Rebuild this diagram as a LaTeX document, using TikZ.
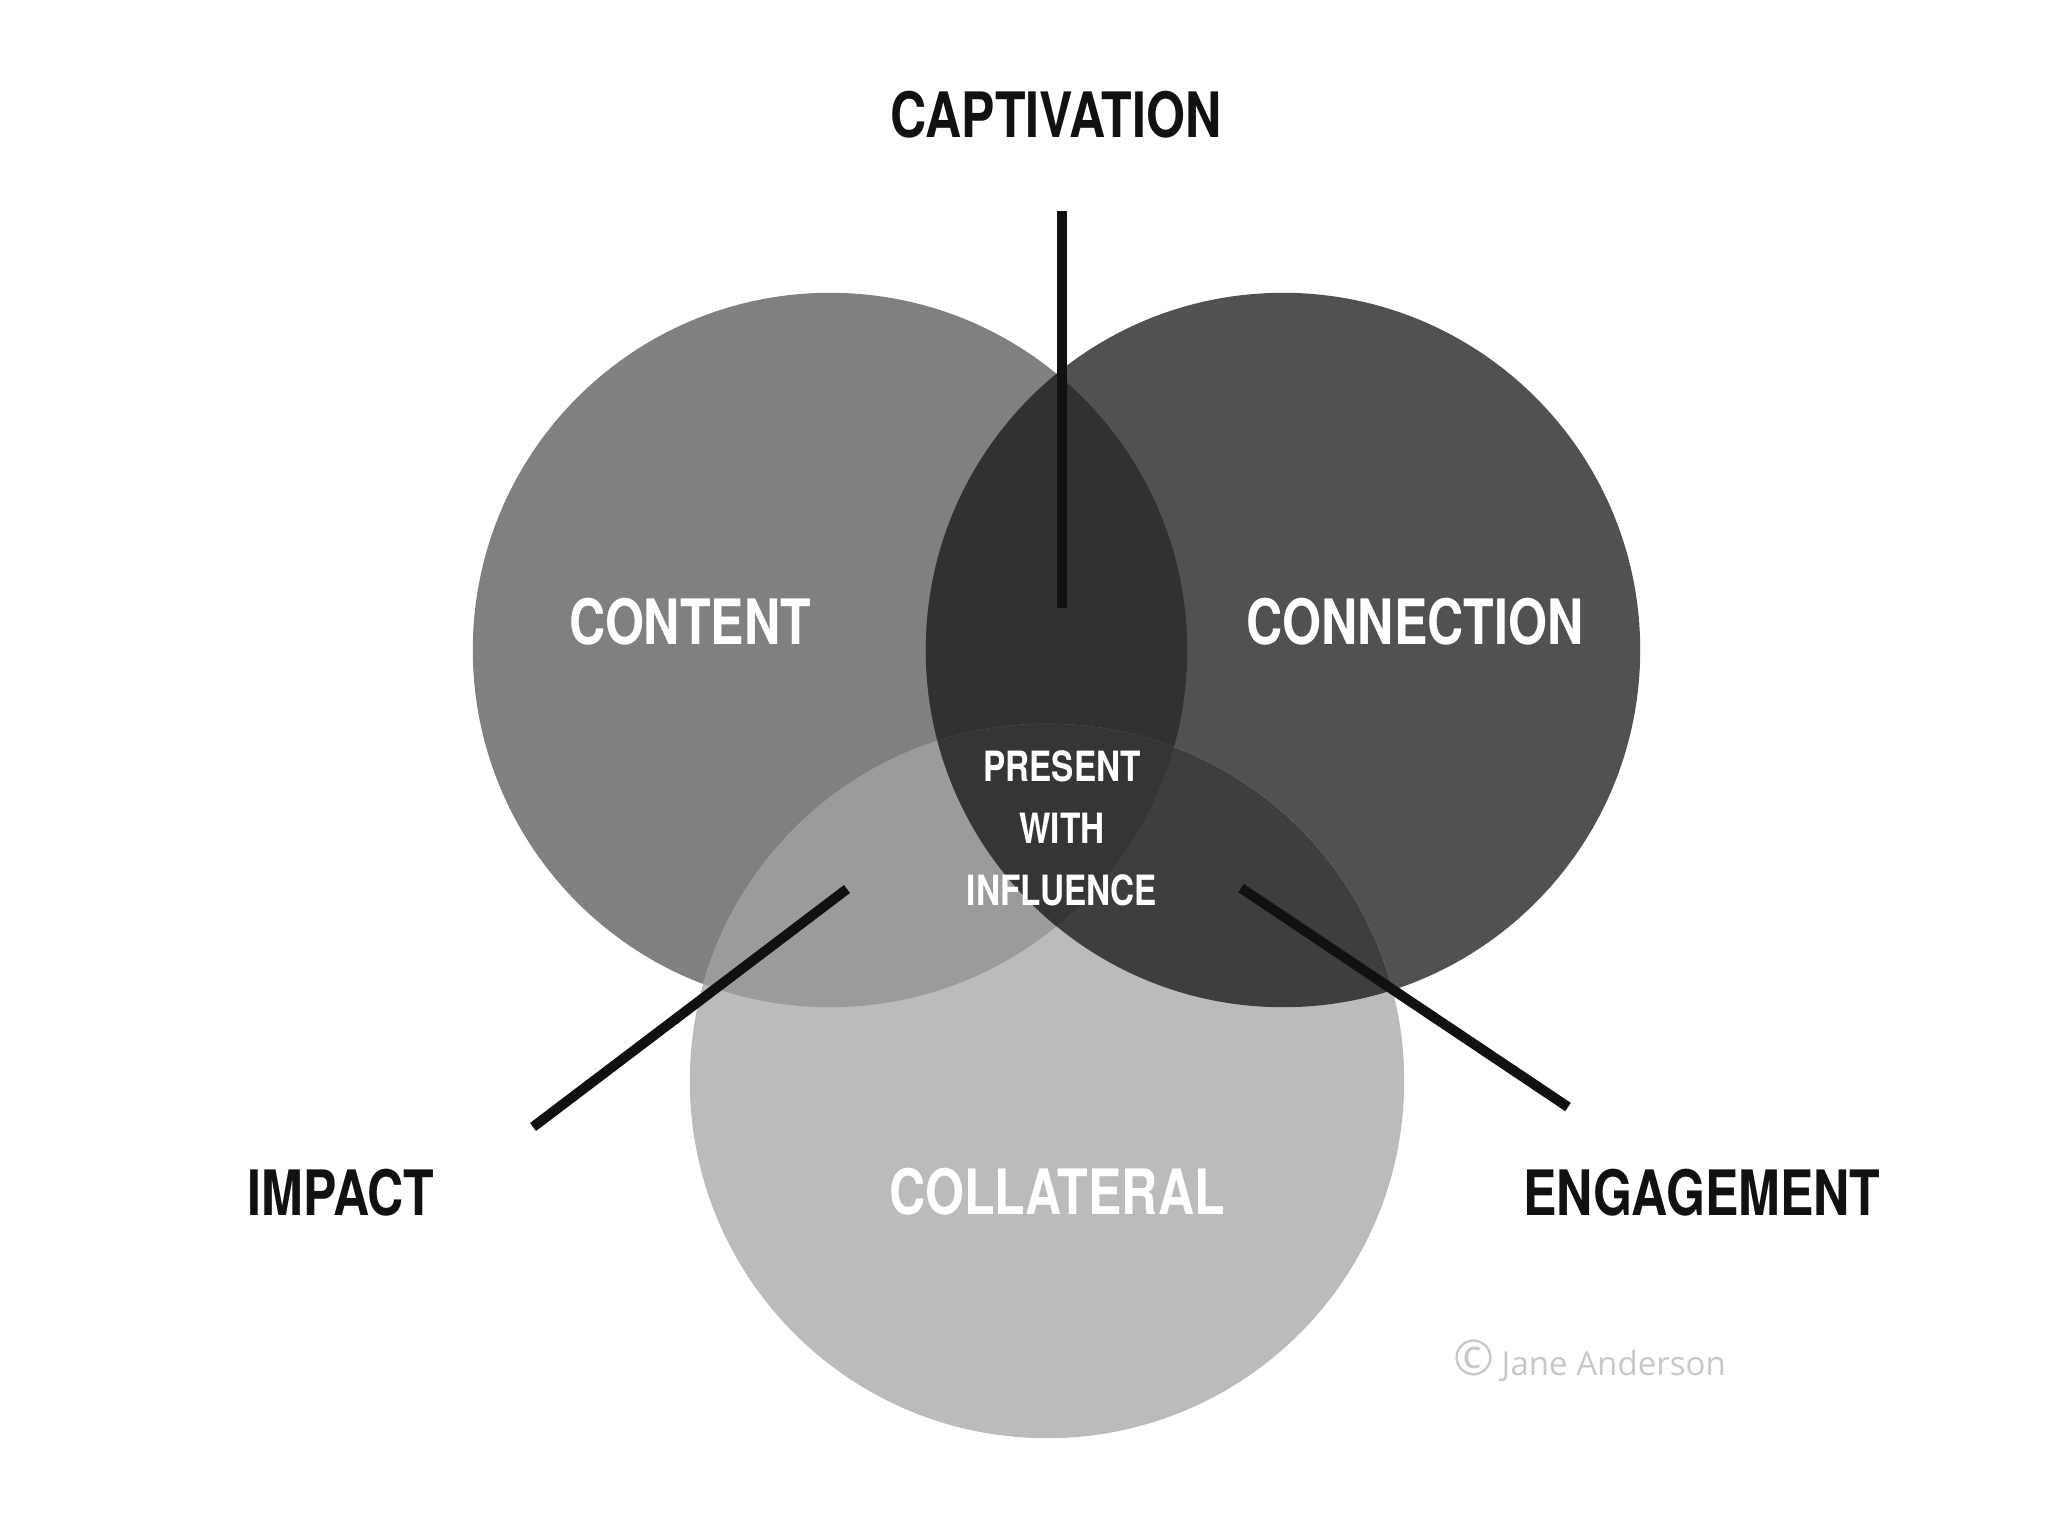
\documentclass[tikz,border=0pt]{standalone}
\usepackage{fontspec}
\setmainfont{TeX Gyre Heros}[FakeStretch=0.80]
\newfontfamily\notefont{Open Sans}
\definecolor{contentgray}{HTML}{808080}
\definecolor{connectgray}{HTML}{515151}
\definecolor{collatgray}{HTML}{BBBBBB}
\definecolor{cocogray}{HTML}{313131}
\definecolor{cocolgray}{HTML}{9B9B9B}
\definecolor{concolgray}{HTML}{3E3E3E}
\definecolor{coregray}{HTML}{353535}
\definecolor{inkblack}{HTML}{111111}
\definecolor{notegray}{HTML}{C8C8C8}
\begin{document}
\begin{tikzpicture}[x=0.01cm, y=-0.01cm,
    outlabel/.style={font=\fontsize{17.8}{20}\selectfont\bfseries, text=inkblack},
    inlabel/.style={font=\fontsize{17.8}{20}\selectfont\bfseries, text=white},
    corelabel/.style={font=\fontsize{11.85}{17.6}\selectfont\bfseries, text=white, align=center},
    spoke/.style={line width=0.1cm, inkblack}]
    \useasboundingbox (0,0) rectangle (2048,1536);
    \def\rad{3.57cm}

    % Circle centres
    \coordinate (content) at (830,650);
    \coordinate (connection) at (1283,650);
    \coordinate (collateral) at (1047,1081);

    % The three circles
    \fill[contentgray] (content) circle [radius=\rad];
    \fill[connectgray] (connection) circle [radius=\rad];
    \fill[collatgray] (collateral) circle [radius=\rad];

    % Overlaps
    \begin{scope}
      \clip (content) circle [radius=\rad];
      \fill[cocogray] (connection) circle [radius=\rad];
      \fill[cocolgray] (collateral) circle [radius=\rad];
    \end{scope}
    \begin{scope}
      \clip (connection) circle [radius=\rad];
      \fill[concolgray] (collateral) circle [radius=\rad];
      \clip (content) circle [radius=\rad];
      \fill[coregray] (collateral) circle [radius=\rad];
    \end{scope}

    % Circle labels
    \node[inlabel] (contentlbl) at (690,622) {CONTENT};
    \node[inlabel] (connectionlbl) at (1415,622) {CONNECTION};
    \node[inlabel] (collaterallbl) at (1057,1192) {COLLATERAL};
    \node[corelabel] (core) at (1062,828) {PRESENT\\WITH\\INFLUENCE};

    % Outer labels
    \node[outlabel] (captivation) at (1056,115) {CAPTIVATION};
    \node[outlabel] (impact) at (341,1193) {IMPACT};
    \node[outlabel] (engagement) at (1702,1193) {ENGAGEMENT};

    % Spokes
    \coordinate (captop) at (1062,211);
    \coordinate (capend) at (1062,608);
    \coordinate (impout) at (533,1127);
    \coordinate (impin) at (847,889);
    \coordinate (engin) at (1241,888);
    \coordinate (engout) at (1568,1107);
    \draw[spoke] (captop) -- (capend);
    \draw[spoke] (impout) -- (impin);
    \draw[spoke] (engin) -- (engout);

    % Credit
    \node[anchor=base west, inner sep=0pt, text=notegray, font=\notefont\fontsize{9.4}{11}\selectfont] (credit) at (1453,1375)
      {{\fontsize{14}{14}\selectfont\textcopyright}\kern2pt Jane Anderson};
\end{tikzpicture}
\end{document}
